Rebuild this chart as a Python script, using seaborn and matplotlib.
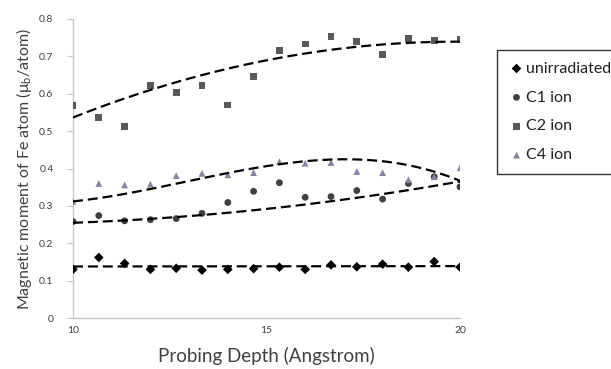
import numpy as np
import pandas as pd
import matplotlib
matplotlib.use("Agg")
import matplotlib.pyplot as plt
import seaborn as sns

# Probing depth positions (Angstrom)
depth = np.linspace(10, 20, 16)

unirradiated = [0.130, 0.162, 0.146, 0.130, 0.133, 0.128, 0.130, 0.132,
                0.136, 0.130, 0.142, 0.137, 0.144, 0.136, 0.151, 0.136]
c1_ion = [0.258, 0.274, 0.260, 0.263, 0.266, 0.280, 0.309, 0.339,
          0.362, 0.323, 0.325, 0.341, 0.318, 0.360, 0.378, 0.351]
c2_ion = [0.569, 0.537, 0.512, 0.621, 0.604, 0.621, 0.570, 0.646,
          0.715, 0.733, 0.754, 0.739, 0.706, 0.748, 0.742, 0.746]
c4_ion = [0.312, 0.360, 0.356, 0.358, 0.381, 0.387, 0.383, 0.389,
          0.418, 0.414, 0.416, 0.392, 0.389, 0.370, 0.378, 0.402]

# Polynomial trendlines: values of each trend at reference depths
trend_depth_unirr = [10, 15, 20]
trend_unirr = [0.138, 0.138, 0.139]
trend_depth_c1 = [10, 11.33, 13.33, 15.35, 17.33, 18.67, 20]
trend_c1 = [0.257, 0.259, 0.274, 0.294, 0.325, 0.345, 0.362]
trend_depth_c2 = [10, 12, 15.32, 17.93, 20]
trend_c2 = [0.535, 0.612, 0.698, 0.726, 0.742]
trend_depth_c4 = [10, 12.67, 14.67, 15.35, 16.68, 17.35, 18.0, 18.67, 19.33, 20]
trend_c4 = [0.311, 0.365, 0.391, 0.412, 0.427, 0.429, 0.421, 0.405, 0.389, 0.369]

series_names = ["unirradiated", "C1 ion", "C2 ion", "C4 ion"]
series_values = [unirradiated, c1_ion, c2_ion, c4_ion]
trend_depths = [trend_depth_unirr, trend_depth_c1, trend_depth_c2, trend_depth_c4]
trend_values = [trend_unirr, trend_c1, trend_c2, trend_c4]
fit_orders = [1, 2, 2, 3]

colors = {"unirradiated": "#000000", "C1 ion": "#404040",
          "C2 ion": "#595959", "C4 ion": "#8a82a2"}
markers = {"unirradiated": "D", "C1 ion": "o", "C2 ion": "s", "C4 ion": "^"}
sizes = {"unirradiated": 45, "C1 ion": 70, "C2 ion": 70, "C4 ion": 65}

df = pd.DataFrame({
    "depth": np.tile(depth, len(series_names)),
    "moment": np.concatenate(series_values),
    "series": np.repeat(series_names, len(depth)),
})

sns.set_style("white")
plt.rcParams["font.family"] = ["Lato", "DejaVu Sans"]

fig = plt.figure(figsize=(6.11, 3.69), dpi=100)
ax = fig.add_axes([73 / 611, 1 - 318 / 369, 387 / 611, 299 / 369])

xs = np.linspace(10, 20, 200)
trend_rows = []
for name, tx, ty, order in zip(series_names, trend_depths, trend_values, fit_orders):
    coef = np.polyfit(tx, ty, order)
    trend_rows.append(pd.DataFrame({"depth": xs, "moment": np.polyval(coef, xs),
                                    "series": name}))
trend = pd.concat(trend_rows, ignore_index=True)

for name in series_names:
    sub = df[df.series == name]
    sns.scatterplot(data=sub, x="depth", y="moment", ax=ax,
                    marker=markers[name], color=colors[name],
                    s=sizes[name], edgecolor="none", linewidth=0,
                    label=name, zorder=3)

for name in series_names:
    sub = trend[trend.series == name]
    sns.lineplot(data=sub, x="depth", y="moment", ax=ax, color="black",
                 linewidth=1.6, legend=False, zorder=4,
                 linestyle=(0, (4.5, 2.2)))

ax.set_xlim(10, 20)
ax.set_ylim(0, 0.8)
ax.set_xticks([10, 15, 20])
ax.set_yticks(np.arange(0, 0.81, 0.1))
ax.set_yticklabels(["0", "0.1", "0.2", "0.3", "0.4", "0.5", "0.6", "0.7", "0.8"])
ax.tick_params(axis="y", labelsize=7.5, length=4, color="#c8c8c8",
               pad=10, left=True, labelcolor="#404040")
ax.tick_params(axis="x", labelsize=7.5, length=0, pad=6, labelcolor="#404040")

for side in ["top", "right"]:
    ax.spines[side].set_visible(False)
for side in ["left", "bottom"]:
    ax.spines[side].set_color("#c8c8c8")
    ax.spines[side].set_linewidth(1.0)

ax.set_xlabel("Probing Depth (Angstrom)", fontsize=13.5, color="#404040",
              labelpad=8)
ax.set_ylabel(r"Magnetic moment of Fe atom ($\mathregular{\mu_b}$/atom)",
              fontsize=11.5, color="#404040", labelpad=4)

ax.get_legend().remove()
handles, labels = ax.get_legend_handles_labels()
for h in handles:
    h.set_sizes([24])
leg = fig.legend(handles, labels, loc="upper left",
                 bbox_to_anchor=(497 / 611, 1 - 50 / 369),
                 frameon=True, fancybox=False, fontsize=11.5,
                 handletextpad=0.1, labelspacing=0.92, borderpad=0.72,
                 handlelength=1.0, borderaxespad=0)
leg.get_frame().set_edgecolor("black")
leg.get_frame().set_linewidth(1.0)
for t in leg.get_texts():
    t.set_color("#202020")

fig.savefig("out.png", dpi=100)
